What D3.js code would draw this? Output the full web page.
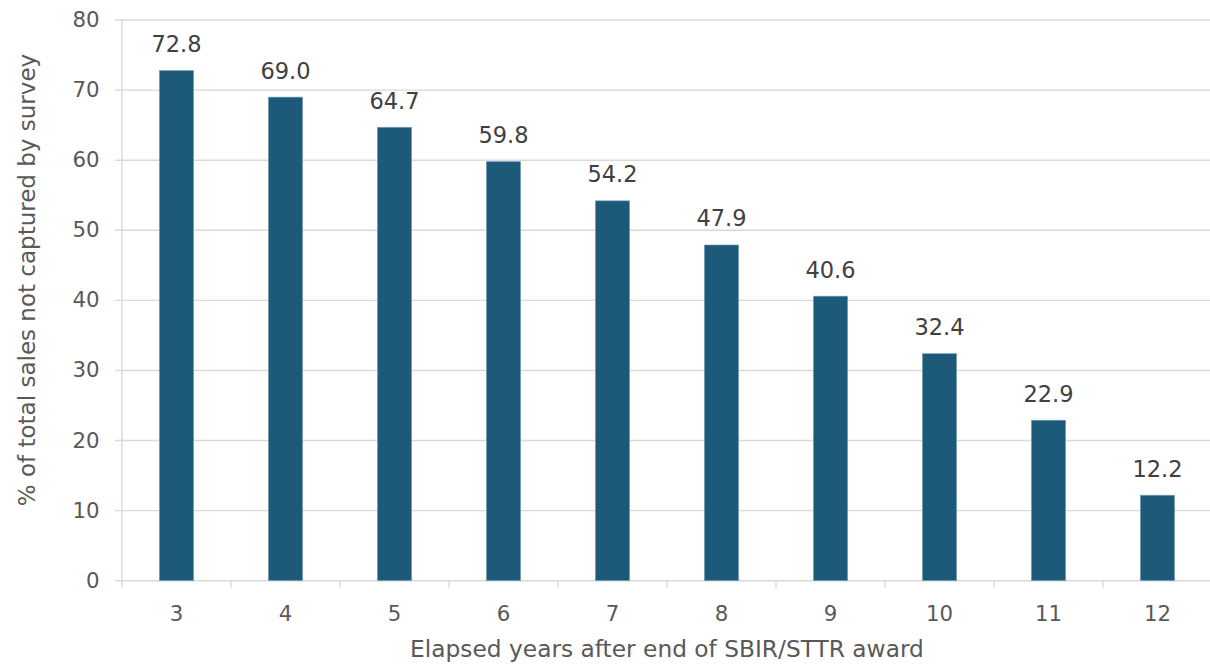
<!DOCTYPE html>
<html>
<head>
<meta charset="utf-8">
<script src="https://cdn.jsdelivr.net/npm/d3@7"></script>
<style>
  html, body { margin: 0; padding: 0; background: #ffffff; }
  svg { display: block; }
  text { font-family: "DejaVu Sans", sans-serif; }
</style>
</head>
<body>
<svg id="chart" width="1210" height="665"></svg>
<script>
const categories = ["3", "4", "5", "6", "7", "8", "9", "10", "11", "12"];
const values = [72.8, 69.0, 64.7, 59.8, 54.2, 47.9, 40.6, 32.4, 22.9, 12.2];
const yTicks = [0, 10, 20, 30, 40, 50, 60, 70, 80];
const xTitle = "Elapsed years after end of SBIR/STTR award";
const yTitle = "% of total sales not captured by survey";

const svg = d3.select("#chart");
const plotLeft = 122, plotRight = 1212, plotTop = 20, plotBottom = 580.7;

const x = d3.scaleBand().domain(categories).range([plotLeft, plotRight]).padding(0);
const y = d3.scaleLinear().domain([0, 80]).range([plotBottom, plotTop]);
const barW = x.bandwidth() * 0.315;
const gridColor = "#d9d9d9";

// gridlines
svg.append("g").selectAll("line").data(yTicks).join("line")
  .attr("x1", plotLeft - 7).attr("x2", plotRight)
  .attr("y1", d => y(d)).attr("y2", d => y(d))
  .attr("stroke", gridColor).attr("stroke-width", 1.4);

// y axis line
svg.append("line")
  .attr("x1", plotLeft).attr("x2", plotLeft)
  .attr("y1", y(80)).attr("y2", plotBottom + 7)
  .attr("stroke", gridColor).attr("stroke-width", 1.4);

// x ticks at band boundaries
svg.append("g").selectAll("line").data(categories.slice(1)).join("line")
  .attr("x1", d => x(d)).attr("x2", d => x(d))
  .attr("y1", plotBottom).attr("y2", plotBottom + 7)
  .attr("stroke", gridColor).attr("stroke-width", 1.4);

// y tick labels
svg.append("g").selectAll("text").data(yTicks).join("text")
  .attr("x", 99.5).attr("y", d => y(d))
  .attr("dy", "0.33em")
  .attr("text-anchor", "end")
  .attr("font-size", 21.3)
  .attr("fill", "#595959")
  .text(d => d);

// x tick labels
svg.append("g").selectAll("text").data(categories).join("text")
  .attr("x", d => x(d) + x.bandwidth() / 2).attr("y", 620.5)
  .attr("text-anchor", "middle")
  .attr("font-size", 21.3)
  .attr("fill", "#595959")
  .text(d => d);

// bars
svg.append("g").selectAll("rect").data(values).join("rect")
  .attr("x", (d, i) => x(categories[i]) + x.bandwidth() / 2 - barW / 2)
  .attr("y", d => y(d))
  .attr("width", barW)
  .attr("height", d => plotBottom - y(d))
  .attr("fill", "#1d5a7a")
  .attr("stroke", "#7fa6be")
  .attr("stroke-width", 0.6);

// data labels
svg.append("g").selectAll("text").data(values).join("text")
  .attr("x", (d, i) => x(categories[i]) + x.bandwidth() / 2)
  .attr("y", d => y(d) - 18.5)
  .attr("text-anchor", "middle")
  .attr("font-size", 22.5)
  .attr("fill", "#404040")
  .text(d => d.toFixed(1));

// x title
svg.append("text")
  .attr("x", (plotLeft + plotRight) / 2).attr("y", 657)
  .attr("text-anchor", "middle")
  .attr("font-size", 23.3)
  .attr("fill", "#595959")
  .text(xTitle);

// y title
svg.append("text")
  .attr("transform", "translate(35,280) rotate(-90)")
  .attr("text-anchor", "middle")
  .attr("font-size", 23)
  .attr("fill", "#595959")
  .text(yTitle);
</script>
</body>
</html>
